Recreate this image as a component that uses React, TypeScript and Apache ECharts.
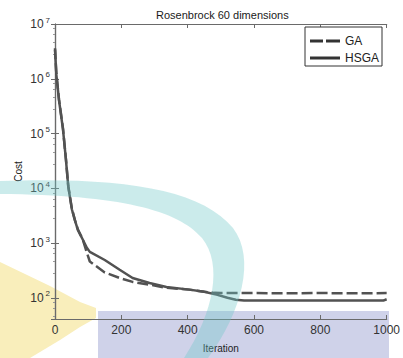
import React, { useEffect, useRef } from "react";
import * as echarts from "echarts";

const FONT = "'Liberation Sans', Arial, Helvetica, sans-serif";

const titleText = "Rosenbrock 60 dimensions";
const xAxisName = "Iteration";
const yAxisName = "Cost";
const xMin = 0;
const xMax = 1000;
const xInterval = 200;
const yMin = 41;
const yMax = 10000000;

const seriesNames = ["GA", "HSGA"];

const gaIterations = [0, 4, 12, 24, 33, 40, 51, 60, 69, 84, 95, 105, 150, 195, 234, 285, 336, 405, 450, 480, 500, 600, 700, 800, 900, 1000];
const gaCost = [3600000, 1250000, 420000, 125000, 34000, 11000, 4200, 2650, 1760, 1150, 700, 460, 290, 230, 195, 174, 152, 141, 129, 123, 122, 122, 121, 122, 121, 122];

const hsgaIterations = [0, 4, 12, 24, 33, 40, 51, 60, 69, 84, 96, 105, 150, 195, 234, 285, 336, 405, 450, 490, 520, 545, 570, 700, 850, 990, 1000];
const hsgaCost = [3400000, 1200000, 410000, 120000, 33000, 10700, 4100, 2600, 1740, 1150, 820, 690, 490, 325, 230, 186, 158, 141, 129, 113, 100, 92, 89, 89, 89, 89, 94];

const crescentPath =
  "M0 181 C 120 177, 200 188, 233 228 C 256 258, 242 312, 208 358 L 184 358 C 214 312, 223 264, 202 238 C 178 210, 120 195, 0 194 Z";

const dashedIcon = "path://M0,0H13V3H0Z M16,0H30V3H16Z";
const solidIcon = "path://M0,0H30V3H0Z";

function pairs(xs: number[], ys: number[]) {
  return xs.map((x, i) => [x, ys[i]]);
}

function powLabel(v: number) {
  const e = Math.log10(v);
  const r = Math.round(e);
  if (Math.abs(e - r) > 1e-6) return "";
  return "{b|10}{s|" + r + "}";
}

export default function App() {
  const ref = useRef<HTMLDivElement>(null);
  useEffect(() => {
    if (!ref.current) return;
    try {
      echarts.graphic.registerShape("crescent", echarts.graphic.extendPath(crescentPath, {}) as any);
    } catch (e) {}
    const chart = echarts.init(ref.current, undefined, { renderer: "svg" });
    const axisColor = "#6a6a6a";
    const lineColor = "#525252";
    const option: any = {
      animation: false,
      backgroundColor: "#ffffff",
      title: {
        text: titleText,
        left: 151,
        top: 4,
        textStyle: { fontSize: 11, fontWeight: "normal", color: "#1a1a1a", fontFamily: FONT },
      },
      grid: { left: 55, top: 24, right: 15, bottom: 39, containLabel: false },
      legend: {
        orient: "vertical",
        left: 305,
        top: 27,
        itemWidth: 30,
        itemHeight: 3,
        itemGap: 5,
        padding: [8, 3, 2, 5],
        borderColor: "#333",
        borderWidth: 1,
        backgroundColor: "#fff",
        data: [
          { name: seriesNames[0], icon: dashedIcon },
          { name: seriesNames[1], icon: solidIcon },
        ],
        itemStyle: { color: "#333" },
        textStyle: { fontSize: 12, color: "#222", fontFamily: FONT },
      },
      xAxis: [
        {
          type: "value",
          min: xMin,
          max: xMax,
          interval: xInterval,
          name: xAxisName,
          nameLocation: "middle",
          nameGap: 24,
          nameMoveOverlap: false,
          nameTextStyle: { fontSize: 10, color: "#222", fontFamily: FONT },
          axisLine: { show: true, lineStyle: { color: axisColor, width: 1.2 } },
          axisTick: { show: true, inside: true, length: 4, lineStyle: { color: axisColor } },
          axisLabel: { fontSize: 12, color: "#333", margin: 5, fontFamily: FONT, formatter: (v: number) => String(v) },
          splitLine: { show: false },
        },
        {
          type: "value",
          position: "top",
          min: xMin,
          max: xMax,
          interval: xInterval,
          axisLine: { show: true, lineStyle: { color: axisColor, width: 1.2 } },
          axisTick: { show: true, inside: true, length: 4, lineStyle: { color: axisColor } },
          axisLabel: { show: false },
          splitLine: { show: false },
        },
      ],
      yAxis: [
        {
          type: "log",
          logBase: 10,
          min: yMin,
          max: yMax,
          name: yAxisName,
          nameLocation: "middle",
          nameGap: 32,
          nameMoveOverlap: false,
          nameTextStyle: { fontSize: 10, color: "#222", fontFamily: FONT },
          axisLine: { show: true, lineStyle: { color: axisColor, width: 1.2 } },
          axisTick: { show: true, inside: true, length: 4, lineStyle: { color: axisColor } },
          axisLabel: {
            margin: 5,
            formatter: powLabel,
            rich: {
              b: { fontSize: 12, color: "#333", fontFamily: FONT, lineHeight: 16, verticalAlign: "middle" },
              s: { fontSize: 8, color: "#333", fontFamily: FONT, lineHeight: 16, verticalAlign: "top", padding: [0, 0, 0, 2] },
            },
          },
          splitLine: { show: false },
        },
        {
          type: "log",
          logBase: 10,
          position: "right",
          min: yMin,
          max: yMax,
          axisLine: { show: true, lineStyle: { color: axisColor, width: 1.2 } },
          axisTick: { show: true, inside: true, length: 4, lineStyle: { color: axisColor } },
          minorTick: { show: true, splitNumber: 5, length: 2, lineStyle: { color: "#999" } },
          axisLabel: { show: false },
          splitLine: { show: false },
        },
      ],
      series: [
        {
          name: seriesNames[0],
          type: "line",
          xAxisIndex: 0,
          yAxisIndex: 0,
          data: pairs(gaIterations, gaCost),
          symbol: "none",
          showSymbol: false,
          color: lineColor,
          lineStyle: { width: 2.5, color: lineColor, type: [11, 4] },
        },
        {
          name: seriesNames[1],
          type: "line",
          xAxisIndex: 0,
          yAxisIndex: 0,
          data: pairs(hsgaIterations, hsgaCost),
          symbol: "none",
          showSymbol: false,
          color: lineColor,
          lineStyle: { width: 2.5, color: lineColor, type: "solid" },
        },
      ],
      graphic: [
        {
          type: "polygon",
          z: -1,
          silent: true,
          shape: { points: [[0, 262], [50, 286], [80, 302], [96, 308], [96, 318], [80, 327], [60, 340], [30, 358], [0, 358]] },
          style: { fill: "#f9eebb" },
        },
        {
          type: "rect",
          z: -1,
          silent: true,
          shape: { x: 98, y: 311, width: 291, height: 47 },
          style: { fill: "#cfd2e9" },
        },
        {
          type: "crescent",
          z: 101,
          silent: true,
          x: 0,
          y: 0,
          style: { fill: "rgba(110, 200, 200, 0.36)" },
        },
      ],
    };
    chart.setOption(option);
    return () => chart.dispose();
  }, []);
  return (
    <div
      ref={ref}
      style={{ position: "fixed", left: 0, top: 0, width: 403, height: 358 }}
    />
  );
}
